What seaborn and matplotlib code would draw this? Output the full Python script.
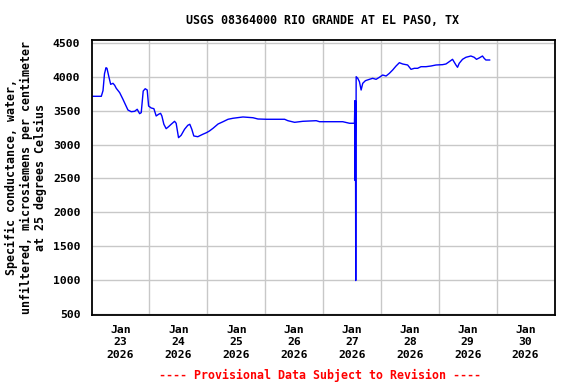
import matplotlib
matplotlib.use("Agg")
import matplotlib.pyplot as plt
import seaborn as sns
import pandas as pd

# Data: hours since 2026-01-22 12:00 and specific conductance (uS/cm)
hours = [0, 4.06, 4.76, 5.38, 6.0, 6.41, 7.12, 7.94, 8.90, 9.60, 10.26, 11.67, 13.03,
         13.99, 15.10, 16.47, 17.88, 18.95, 19.94, 20.61, 21.43, 22.26, 23.09, 23.67,
         24.74, 25.86, 26.81, 27.81, 28.63, 29.17, 30.0, 30.95, 31.94, 33.02, 34.43,
         35.09, 36.08, 37.16, 38.57, 39.93, 40.76, 41.59, 42.41, 44.07, 46.14, 47.67,
         48.91, 50.40, 52.47, 54.54, 56.61, 58.68, 62.81, 66.95, 69.02, 72.50, 76.63,
         80.07, 81.43, 84.21, 87.64, 93.19, 94.55, 100.06, 104.19, 106.97, 109.03,
         109.24, 109.32, 109.45, 109.57, 109.74, 110.4, 111.1, 111.8, 112.47, 113.58,
         115.24, 116.6, 118.01, 119.38, 120.74, 122.15, 123.52, 124.88, 126.29, 127.66,
         129.02, 131.09, 132.5, 133.86, 135.23, 136.63, 138.7, 140.77, 142.84, 145.57,
         146.98, 148.34, 149.71, 151.12, 151.78, 152.48, 153.85, 155.26, 157.32, 158.69,
         159.64, 160.76, 162.12, 162.83, 163.53, 165.19]
conductance = [3716, 3716, 3800, 4050, 4139, 4130, 4016, 3893, 3908, 3879, 3834, 3770, 3672,
               3598, 3513, 3488, 3494, 3524, 3459, 3474, 3794, 3828, 3809, 3572,
               3543, 3533, 3425, 3450, 3464, 3425, 3302, 3237, 3266, 3302, 3346,
               3317, 3104, 3139, 3228, 3287, 3302, 3228, 3129, 3118, 3154, 3178,
               3203, 3243, 3306, 3340, 3376, 3391, 3410, 3399, 3380, 3376, 3376,
               3376, 3355, 3331, 3346, 3355, 3340, 3340, 3340, 3317, 3317,
               3650, 2470, 3650, 990, 4006, 3982, 3932, 3809, 3908, 3947,
               3967, 3982, 3967, 3997, 4031, 4016, 4056, 4105, 4164, 4213,
               4194, 4179, 4115, 4130, 4130, 4154, 4154, 4164, 4179, 4184,
               4194, 4228, 4263, 4179, 4145, 4204, 4263, 4293, 4312, 4293,
               4263, 4283, 4312, 4278, 4253, 4253]
day_labels = ["Jan\n23\n2026", "Jan\n24\n2026", "Jan\n25\n2026", "Jan\n26\n2026",
              "Jan\n27\n2026", "Jan\n28\n2026", "Jan\n29\n2026", "Jan\n30\n2026"]
y_ticks = [500, 1000, 1500, 2000, 2500, 3000, 3500, 4000, 4500]

start = pd.Timestamp("2026-01-22 12:00")
df = pd.DataFrame({"time": [start + pd.Timedelta(hours=h) for h in hours],
                   "value": conductance})

sns.set_style("white")
plt.rcParams["font.family"] = ["DejaVu Sans Mono"]
plt.rcParams["font.weight"] = "bold"
plt.rcParams["text.color"] = "black"
plt.rcParams["xtick.color"] = "black"
plt.rcParams["ytick.color"] = "black"
plt.rcParams["axes.labelcolor"] = "black"

fig = plt.figure(figsize=(5.76, 3.84), dpi=100)
ax = fig.add_axes([0.1589, 0.1789, 0.9627 - 0.1589, 0.8971 - 0.1789])

sns.lineplot(data=df, x="time", y="value", ax=ax, color="#0000ff", linewidth=1.0)

ax.set_xlim(start, pd.Timestamp("2026-01-30 12:00"))
ax.set_ylim(476, 4556)

major = [pd.Timestamp(f"2026-01-{d} 00:00") for d in range(23, 31)]
minor = [pd.Timestamp(f"2026-01-{d} 12:00") for d in range(23, 30)]
ax.set_xticks(major)
ax.set_xticklabels(day_labels, fontsize=8.2, fontweight="bold", linespacing=1.3)
ax.set_xticks(minor, minor=True)
ax.set_yticks(y_ticks)
ax.set_yticklabels([str(v) for v in y_ticks], fontsize=8.2, fontweight="bold")
ax.tick_params(axis="x", which="both", length=0, pad=7)
ax.tick_params(axis="y", length=0, pad=8)

ax.grid(False)
ax.grid(True, axis="x", which="minor", color="#c8c8c8", linewidth=1.0)
ax.grid(True, axis="y", which="major", color="#c8c8c8", linewidth=1.0)
ax.set_axisbelow(True)

for s in ax.spines.values():
    s.set_visible(True)
    s.set_color("black")
    s.set_linewidth(1.3)

ax.set_xlabel("")
ax.set_ylabel("Specific conductance, water,\nunfiltered, microsiemens per centimeter\nat 25 degrees Celsius",
              fontsize=8.4, fontweight="bold", linespacing=1.15, labelpad=4)

fig.text(0.56, 1 - 20 / 384, "USGS 08364000 RIO GRANDE AT EL PASO, TX",
         ha="center", va="center", fontsize=8.4, fontweight="bold")
fig.text(0.556, 1 - 375 / 384, "---- Provisional Data Subject to Revision ----",
         ha="center", va="center", fontsize=8.4, fontweight="bold", color="red")

fig.savefig("out.png", dpi=100)
